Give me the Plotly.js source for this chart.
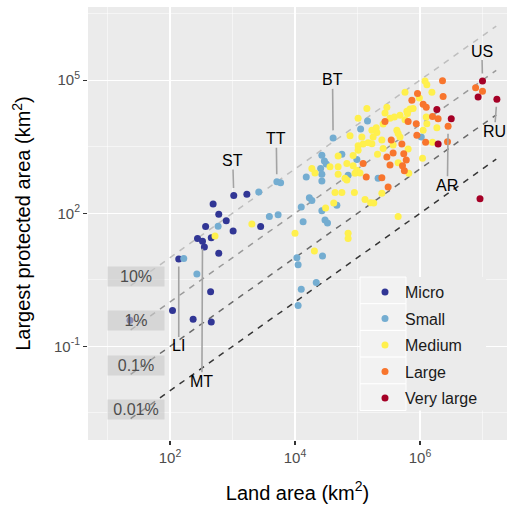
<!DOCTYPE html>
<html><head><meta charset="utf-8">
<script src="https://cdn.plot.ly/plotly-3.0.1.min.js"></script>
<style>html,body{margin:0;padding:0;background:#fff}#chart{width:510px;height:511px}</style>
</head><body><div id="chart"></div>
<script>
// Size classes
const categories = ['Micro', 'Small', 'Medium', 'Large', 'Very large'];
const categoryColors = ['#313695', '#74ADD1', '#FFF04D', '#F8752D', '#A50026'];

// Values are log10(km2)
const microLogLand = [3.02, 3.23, 2.69, 2.78, 2.90, 2.57, 3.01, 3.45, 2.44, 2.52, 2.55, 2.66, 2.78, 2.14, 2.65, 2.04, 2.37, 2.66, 1.36];
const microLogProt = [2.40, 2.43, 2.21, 1.98, 1.83, 1.70, 1.60, 1.70, 1.43, 1.37, 1.24, 1.45, 1.10, 0.97, 0.23, -0.19, -0.39, -0.45, -0.41];

const smallLogLand = [3.42, 3.71, 3.77, 2.77, 3.59, 3.73, 2.22, 2.43, 4.61, 4.43, 4.47, 4.50, 4.75, 4.99, 5.16, 5.05, 6.02, 4.85, 4.43, 4.23, 4.27, 4.10, 4.43, 4.13, 4.48, 4.52, 4.67, 4.03, 4.05, 4.44, 4.10, 4.34, 4.05, 5.33, 4.41, 4.43, 4.18];
const smallLogProt = [2.48, 2.71, 2.69, 1.71, 1.93, 1.97, 0.98, 0.63, 3.70, 3.31, 3.18, 3.11, 3.33, 3.21, 4.08, 3.90, 3.72, 2.86, 2.73, 2.35, 2.29, 2.14, 2.06, 1.81, 1.85, 1.78, 2.18, 1.00, 0.84, 1.04, 0.29, 0.44, -0.08, 2.79, 3.01, 2.88, 2.82];

const mediumLogLand = [6.08, 6.11, 5.76, 6.19, 5.99, 5.15, 5.44, 5.01, 5.41, 5.52, 5.59, 5.79, 5.84, 5.89, 6.10, 6.27, 6.05, 5.76, 5.30, 5.31, 4.88, 5.07, 5.25, 5.23, 5.63, 5.65, 6.20, 5.39, 5.17, 5.09, 5.01, 5.32, 5.41, 5.81, 5.65, 5.82, 6.04, 4.69, 4.83, 4.93, 4.27, 4.32, 4.56, 4.69, 4.99, 4.69, 4.80, 4.96, 5.04, 4.83, 4.64, 4.75, 4.95, 5.39, 5.12, 5.21, 5.26, 5.65, 4.62, 4.49, 4.85, 4.85, 4.31, 3.31, 2.72, 5.23, 5.57, 5.80, 5.47, 6.11, 4.00, 5.01, 5.68, 5.68, 4.93];
const mediumLogProt = [4.98, 4.90, 4.73, 4.73, 4.60, 4.36, 4.26, 4.14, 4.01, 4.14, 4.17, 4.30, 4.35, 4.36, 4.17, 3.93, 3.87, 4.11, 3.93, 3.82, 3.75, 3.72, 3.72, 3.87, 3.87, 3.80, 3.60, 3.65, 3.59, 3.56, 3.42, 3.33, 3.46, 3.45, 3.14, 2.90, 3.24, 3.29, 3.12, 3.07, 3.01, 2.91, 3.05, 3.05, 2.97, 2.88, 2.79, 2.90, 2.91, 2.75, 2.47, 2.47, 2.47, 2.45, 2.31, 2.24, 2.23, 1.93, 2.23, 2.12, 1.55, 1.43, 1.15, 1.76, 1.49, 3.57, 3.54, 4.25, 4.39, 4.02, 1.55, 3.52, 3.72, 4.21, 3.30];

const largeLogLand = [6.89, 7.00, 6.36, 5.96, 6.37, 5.87, 6.05, 6.10, 6.20, 6.29, 6.45, 5.44, 5.81, 5.94, 5.95, 6.09, 6.44, 5.54, 5.71, 5.47, 5.57, 5.74, 5.52, 5.72, 5.75, 5.09, 5.14, 5.39, 5.49, 5.78];
const largeLogProt = [4.83, 4.75, 4.99, 4.70, 4.63, 4.55, 4.46, 4.39, 4.18, 4.13, 3.96, 4.07, 4.07, 4.02, 3.76, 3.60, 3.61, 3.65, 3.56, 3.27, 3.36, 3.34, 3.09, 3.07, 2.96, 3.12, 2.82, 2.80, 2.59, 3.20];

const veryLargeLogLand = [7.00, 6.93, 7.23, 6.27, 6.50, 6.29, 6.96];
const veryLargeLogProt = [4.98, 4.62, 4.57, 4.34, 4.13, 3.56, 2.33];

// Labelled countries (same points as above)
const labelCodes = ['LI', 'MT', 'ST', 'TT', 'BT', 'US', 'RU', 'AR'];
const labelLogLand = [2.14, 2.52, 3.02, 3.71, 4.61, 7.00, 7.23, 6.45];
const labelLogProt = [0.97, 1.37, 2.40, 2.71, 3.70, 4.98, 4.57, 3.96];

// Reference lines: protected share of land area
const refShares = [0.1, 0.01, 0.001, 0.0001];
const refLabels = ['10%', '1%', '0.1%', '0.01%'];
const refLogLandSpan = [1.37, 7.22];

// Axis ticks
const xTickVals = [1e2, 1e4, 1e6];
const xTickText = ['10<sup>2</sup>', '10<sup>4</sup>', '10<sup>6</sup>'];
const xMinorVals = [1e1, 1e3, 1e5, 1e7];
const yTickVals = [1e-1, 1e2, 1e5];
const yTickText = ['10<sup>-1</sup>', '10<sup>2</sup>', '10<sup>5</sup>'];
const yMinorVals = [Math.pow(10, -2.5), Math.pow(10, 0.5), Math.pow(10, 3.5), Math.pow(10, 6.5)];

// ---------- drawing ----------
const W = 510, H = 511;
const M = {l: 88, r: 3, t: 7, b: 71};
const pw = W - M.l - M.r, ph = H - M.t - M.b;
const paperX = px => (px - M.l) / pw;
const paperY = py => (H - M.b - py) / ph;
const FONT = 'Liberation Sans, Arial, Helvetica, sans-serif';
const pow10 = a => a.map(v => Math.pow(10, v));

const refColors = ['#BEBEBE', '#9A9A9A', '#6A6A6A', '#363636'];
const traces = [];
refShares.forEach((s, i) => {
  const xs = pow10(refLogLandSpan);
  traces.push({
    x: xs, y: xs.map(v => v * s), mode: 'lines', type: 'scatter',
    line: {color: refColors[i], width: 1.5, dash: '6px,6px'},
    hoverinfo: 'skip', showlegend: false
  });
});

const seriesLand = [microLogLand, smallLogLand, mediumLogLand, largeLogLand, veryLargeLogLand];
const seriesProt = [microLogProt, smallLogProt, mediumLogProt, largeLogProt, veryLargeLogProt];
categories.forEach((c, i) => {
  traces.push({
    x: pow10(seriesLand[i]), y: pow10(seriesProt[i]),
    type: 'scatter', mode: 'markers', name: c, legendgroup: c,
    marker: {color: categoryColors[i], size: 7, line: {width: 0}}
  });
});

const annotations = [];
// percentage labels along the reference lines
const refLabelLogX = 1.456, refLabelOffset = 0.118;
refShares.forEach((s, i) => {
  annotations.push({
    x: refLabelLogX, y: Math.log10(s) + refLabelLogX + refLabelOffset,
    xref: 'x', yref: 'y', text: refLabels[i], showarrow: false,
    font: {family: FONT, size: 16, color: '#4D4D4D'},
    bgcolor: 'rgba(200,200,200,0.6)', width: 54, height: 17, borderpad: 1
  });
});
// country labels with leader lines
const labelOffsets = {LI: [0, 87], MT: [-0.6, 140], ST: [-1, -35], TT: [-0.6, -43], BT: [-0.6, -58], US: [-0.6, -30], RU: [-2.4, 32], AR: [-0.7, 59]};
labelCodes.forEach((code, i) => {
  annotations.push({
    x: labelLogLand[i], y: labelLogProt[i], xref: 'x', yref: 'y',
    text: code, showarrow: true, arrowhead: 0, arrowwidth: 1.6, arrowcolor: '#A3A3A3',
    ax: labelOffsets[code][0], ay: labelOffsets[code][1],
    standoff: 7.5, startstandoff: 0, borderpad: 0,
    font: {family: FONT, size: 16, color: '#000000'}
  });
});

// legend background + key boxes
const shapes = [];
const legTop = 277, keyH = 26.7, keyL = 360, keyR = 406, legR = 486;
shapes.push({type: 'rect', xref: 'paper', yref: 'paper', layer: 'above',
  x0: paperX(keyL), x1: paperX(legR), y0: paperY(legTop + 5 * keyH), y1: paperY(legTop),
  fillcolor: '#EBEBEB', line: {width: 0}});
for (let k = 0; k < categories.length; k++) {
  shapes.push({type: 'rect', xref: 'paper', yref: 'paper', layer: 'above',
    x0: paperX(keyL), x1: paperX(keyR), y0: paperY(legTop + (k + 1) * keyH), y1: paperY(legTop + k * keyH),
    fillcolor: '#F2F2F2', line: {color: '#FFFFFF', width: 1}});
}

const axisCommon = {
  type: 'log', showline: false, zeroline: false,
  ticks: 'outside', ticklen: 4, tickwidth: 1.1, tickcolor: '#333333',
  gridcolor: '#FFFFFF', gridwidth: 1.1,
  tickfont: {family: FONT, size: 15, color: '#4D4D4D'},
  tickmode: 'array'
};

const layout = {
  width: W, height: H, margin: M,
  paper_bgcolor: '#FFFFFF', plot_bgcolor: '#EBEBEB',
  font: {family: FONT},
  showlegend: true,
  legend: {
    x: paperX(365), y: paperY(275), xanchor: 'left', yanchor: 'top',
    bgcolor: 'rgba(0,0,0,0)', borderwidth: 0,
    font: {family: FONT, size: 16, color: '#1A1A1A'},
    traceorder: 'grouped', tracegroupgap: 2.7
  },
  xaxis: Object.assign({}, axisCommon, {
    range: [0.688, 7.392], tickvals: xTickVals, ticktext: xTickText,
    minor: {tickvals: xMinorVals, showgrid: true, gridcolor: '#FFFFFF', gridwidth: 0.5, ticks: ''},
    title: {text: 'Land area (km<sup>2</sup>)', font: {family: FONT, size: 20, color: '#000000'}, standoff: 20}
  }),
  yaxis: Object.assign({}, axisCommon, {
    range: [-3.11, 6.65], tickvals: yTickVals, ticktext: yTickText,
    minor: {tickvals: yMinorVals, showgrid: true, gridcolor: '#FFFFFF', gridwidth: 0.5, ticks: ''},
    title: {text: 'Largest protected area (km<sup>2</sup>)', font: {family: FONT, size: 20, color: '#000000'}, standoff: 17}
  }),
  annotations: annotations,
  shapes: shapes
};

Plotly.newPlot('chart', traces, layout, {displayModeBar: false, staticPlot: true});
</script>
</body></html>
